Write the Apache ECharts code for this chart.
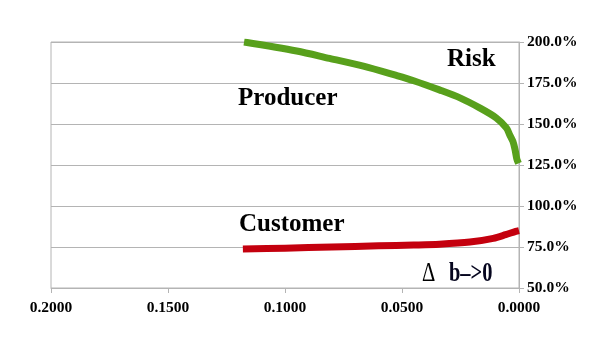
<!DOCTYPE html>
<html>
<head>
<meta charset="utf-8">
<title>Producer and Customer Risk</title>
<script src="https://cdn.jsdelivr.net/npm/echarts@6/dist/echarts.min.js"></script>
<style>
  html, body { margin: 0; padding: 0; background: #fff; }
  #chart { width: 603px; height: 340px; }
</style>
</head>
<body>
<div id="chart"></div>
<script>
// Δb on the horizontal axis (reversed, shrinking towards 0), risk in percent
const xTicks = [0, 0.05, 0.10, 0.15, 0.20];
const yTicks = [50, 75, 100, 125, 150, 175, 200];

const producerX = [0.1175, 0.095, 0.081, 0.0665, 0.0524, 0.045, 0.034, 0.025, 0.017, 0.0097, 0.0054, 0.0040, 0.0026, 0.0017, 0.0009, 0.0002];
const producerY = [200.0, 194.5, 190.0, 185.3, 179.6, 176.4, 170.8, 165.8, 160.0, 153.7, 147.6, 143.5, 139.4, 134.5, 128.5, 126.0];

const customerX = [0.118, 0.100, 0.080, 0.060, 0.045, 0.034, 0.021, 0.011, 0.0057, 0.0014, 0.0];
const customerY = [73.8, 74.3, 75.0, 75.7, 76.2, 76.7, 78.0, 80.3, 82.5, 84.5, 85.0];

const pairs = (xs, ys) => xs.map((x, i) => [x, ys[i]]);

const serif = '"Liberation Serif", "Times New Roman", serif';
const gridGray = '#b4b4b4';

const chart = echarts.init(document.getElementById('chart'), null, { renderer: 'canvas' });

// bold serif caption, vertically centred on y
const caption = (text, x, y, size) => ({
  type: 'text', x: x, y: y, z: 10,
  style: { text: text, font: 'bold ' + size + 'px ' + serif, fill: '#000', align: 'left', verticalAlign: 'middle' }
});

chart.setOption({
  backgroundColor: '#ffffff',
  animation: false,
  grid: {
    left: 51, right: 84, top: 42, bottom: 52,
    show: true, borderColor: gridGray, borderWidth: 1
  },
  xAxis: {
    type: 'value',
    inverse: true,
    min: xTicks[0],
    max: xTicks[xTicks.length - 1],
    interval: 0.05,
    axisLine: { show: true, lineStyle: { color: gridGray, width: 1 } },
    axisTick: { show: true, length: 5, lineStyle: { color: gridGray } },
    splitLine: { show: false },
    axisLabel: {
      margin: 12,
      fontFamily: serif, fontWeight: 'bold', fontSize: 15.5, color: '#000',
      formatter: v => v.toFixed(4)
    }
  },
  yAxis: {
    type: 'value',
    position: 'right',
    min: yTicks[0],
    max: yTicks[yTicks.length - 1],
    interval: 25,
    axisLine: { show: true, lineStyle: { color: gridGray, width: 1 } },
    axisTick: { show: true, length: 5, lineStyle: { color: gridGray } },
    splitLine: { show: true, lineStyle: { color: gridGray, width: 1 } },
    axisLabel: {
      margin: 8,
      fontFamily: serif, fontWeight: 'bold', fontSize: 15.5, color: '#000',
      formatter: v => v.toFixed(1) + '%'
    }
  },
  series: [
    {
      name: 'Producer Risk',
      type: 'line',
      data: pairs(producerX, producerY),
      smooth: 0.3,
      showSymbol: false,
      lineStyle: { color: '#58a01c', width: 7, cap: 'butt', join: 'round' },
      z: 3
    },
    {
      name: 'Customer Risk',
      type: 'line',
      data: pairs(customerX, customerY),
      smooth: 0.3,
      showSymbol: false,
      lineStyle: { color: '#c4000e', width: 7, cap: 'butt', join: 'round' },
      z: 3
    }
  ],
  graphic: [
    caption('Risk', 447, 59.5, 25),
    caption('Producer', 238, 98.5, 25),
    caption('Customer', 239, 225, 25),
    {
      type: 'text', x: 422, y: 274, scaleX: 0.74, z: 10,
      style: { text: 'Δ', font: '28px ' + serif, fill: '#000', align: 'left', verticalAlign: 'middle' }
    },
    {
      type: 'text', x: 449, y: 274, scaleX: 0.73, z: 10,
      style: { text: 'b–>0', font: 'bold 28px ' + serif, fill: '#05051e', align: 'left', verticalAlign: 'middle' }
    }
  ]
});
</script>
</body>
</html>
